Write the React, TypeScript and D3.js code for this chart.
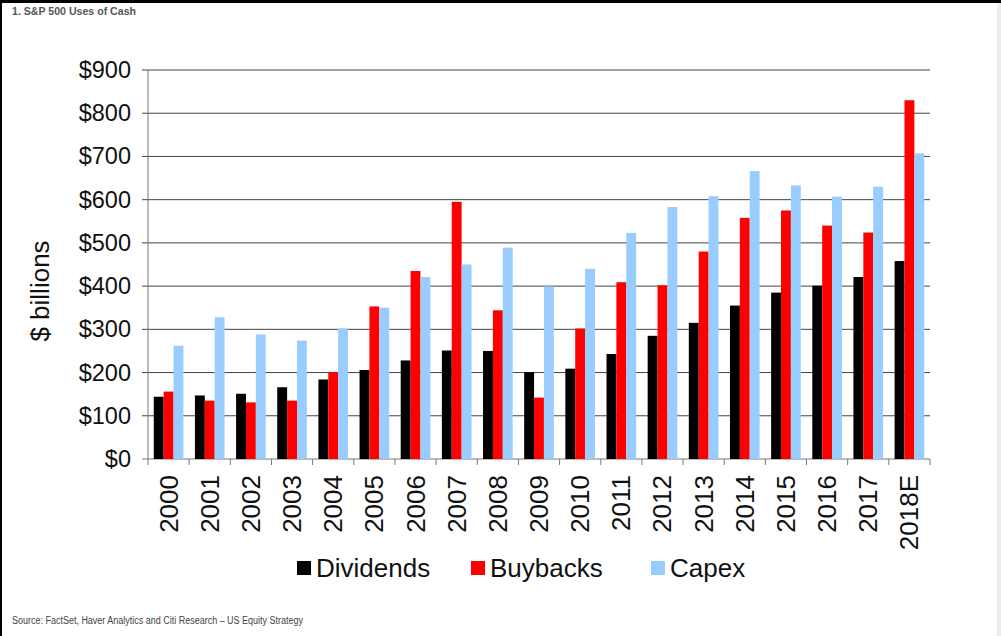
import React from "react";
import * as d3 from "d3";

const years = ["2000","2001","2002","2003","2004","2005","2006","2007","2008","2009","2010","2011","2012","2013","2014","2015","2016","2017","2018E"];
const dividends = [144,147,151,166,184,206,228,251,250,201,209,243,285,315,355,385,401,421,458];
const buybacks = [156,135,131,135,201,353,435,595,344,142,302,409,402,480,558,575,540,524,830];
const capex = [262,328,288,274,302,350,421,450,489,399,440,523,583,608,666,633,607,630,707];
const seriesNames = ["Dividends","Buybacks","Capex"];
const seriesColors = ["#000000","#FF0000","#99CCFF"];
const yTicks = [0,100,200,300,400,500,600,700,800,900];

const W = 1001, H = 636;
const left = 148, right = 930, top = 70, bottom = 459;

export default function App() {
  const series = [dividends, buybacks, capex];
  const x0 = d3.scaleBand<string>().domain(years).range([left, right]).paddingInner(0.28).paddingOuter(0.14);
  const x1 = d3.scaleBand<number>().domain([0,1,2]).range([0, x0.bandwidth()]).padding(0);
  const y = d3.scaleLinear().domain([0, 900]).range([bottom, top]);
  const step = x0.step();
  const boundaries = d3.range(years.length + 1).map(i => left + i * step);
  const sans = "'Liberation Sans', Arial, sans-serif";
  const narrow = "'Liberation Sans Narrow', 'Arial Narrow', 'Liberation Sans', Arial, sans-serif";
  const legendX = [297, 471, 651];

  return (
    <svg width={W} height={H} style={{ position: "absolute", left: 0, top: 0, background: "#fff" }} fontFamily={sans}>
      <rect x={0} y={0} width={W} height={H} fill="#fff" />
      <rect x={0} y={0} width={W} height={3} fill="#000" />
      <rect x={0} y={0} width={2} height={H} fill="#000" />
      <rect x={997} y={3} width={4} height={H} fill="#ececec" />
      <text x={12} y={15} fontFamily={narrow} fontWeight="bold" fontSize={11} fill="#555" textLength={124} lengthAdjust="spacingAndGlyphs">1. S&amp;P 500 Uses of Cash</text>

      {yTicks.map(t => (
        <g key={t}>
          <line x1={left - 6} x2={right} y1={y(t)} y2={y(t)} stroke={t === 0 ? "#777" : "#444"} strokeWidth={1} />
          <text x={131} y={y(t) + 8} textAnchor="end" fontSize={23.5} fill="#111">${t}</text>
        </g>
      ))}
      <line x1={left} x2={left} y1={top} y2={bottom} stroke="#777" strokeWidth={1} />
      {boundaries.map((b, i) => (
        <line key={i} x1={b} x2={b} y1={bottom} y2={bottom + 6} stroke="#777" strokeWidth={1} />
      ))}

      {years.map((yr, i) => (
        <g key={yr} transform={`translate(${x0(yr)},0)`}>
          {series.map((s, j) => (
            <rect key={j} x={x1(j)} y={y(s[i])} width={x1.bandwidth()} height={bottom - y(s[i])} fill={seriesColors[j]} />
          ))}
        </g>
      ))}

      {years.map(yr => (
        <text key={yr} transform={`translate(${(x0(yr) as number) + x0.bandwidth() / 2 + 9},475) rotate(-90)`} textAnchor="end" fontSize={26} fill="#111">{yr}</text>
      ))}

      <text transform="translate(49,291) rotate(-90)" textAnchor="middle" fontSize={26} fill="#111">$ billions</text>

      {seriesNames.map((n, j) => (
        <g key={n}>
          <rect x={legendX[j]} y={561} width={14} height={14} fill={seriesColors[j]} />
          <text x={legendX[j] + 19} y={577} fontSize={26} fill="#111">{n}</text>
        </g>
      ))}

      <text x={12} y={624} fontFamily={narrow} fontSize={10} fill="#444" textLength={291} lengthAdjust="spacingAndGlyphs">Source: FactSet, Haver Analytics and Citi Research – US Equity Strategy</text>
    </svg>
  );
}
